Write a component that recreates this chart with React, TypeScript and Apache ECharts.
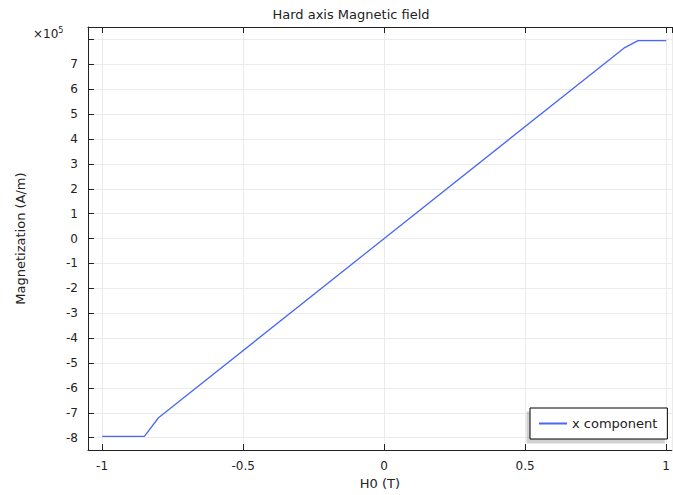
import React, { useEffect, useRef } from "react";
import * as echarts from "echarts";

const fieldT = [-1, -0.85, -0.8, 0.85, 0.9, 1];
const magnetization = [-795000, -795000, -720000, 765000, 795000, 795000];
const seriesName = "x component";
const titleText = "Hard axis Magnetic field";
const xName = "H0 (T)";
const yName = "Magnetization (A/m)";

const FONT = "DejaVu Sans";
const TXT = "#222";

export default function App() {
  const ref = useRef<HTMLDivElement>(null);
  useEffect(() => {
    const chart = echarts.init(ref.current!, null, { renderer: "svg" });
    const data = fieldT.map((x, i) => [x, magnetization[i]]);
    const xCommon = { type: "value", min: -1.05, max: 1.02, splitNumber: 4 };
    chart.setOption({
      animation: false,
      backgroundColor: "#fff",
      textStyle: { fontFamily: FONT },
      title: {
        text: titleText,
        left: 346,
        top: 3,
        textAlign: "center",
        textStyle: { fontFamily: FONT, fontSize: 13, fontWeight: "normal", color: TXT },
      },
      grid: { left: 88, right: 0, top: 27, bottom: 40, containLabel: false },
      legend: {
        left: 530,
        top: 408,
        orient: "vertical",
        backgroundColor: "#fff",
        borderColor: "#000",
        borderWidth: 1,
        borderRadius: 0,
        padding: [9, 10, 9, 9],
        shadowColor: "rgba(0,0,0,0.18)",
        shadowBlur: 0,
        shadowOffsetX: -3,
        shadowOffsetY: 4,
        itemWidth: 28,
        itemHeight: 2,
        itemGap: 6,
        icon: "rect",
        textStyle: { fontFamily: FONT, fontSize: 13, color: TXT },
        data: [seriesName],
      },
      xAxis: [
        {
          ...xCommon,
          name: xName,
          nameLocation: "middle",
          nameGap: 25,
          nameTextStyle: { fontFamily: FONT, fontSize: 13, color: TXT },
          axisLine: { show: true, onZero: false, lineStyle: { color: "#222", width: 1 } },
          axisTick: { show: true, inside: true, length: 6, lineStyle: { color: "#222" } },
          axisLabel: {
            fontFamily: FONT,
            fontSize: 12,
            color: TXT,
            margin: 10,
            showMinLabel: false,
            showMaxLabel: false,
          },
          splitLine: { show: true, lineStyle: { color: "#ebebeb", width: 1 } },
        },
        {
          ...xCommon,
          position: "top",
          axisLine: { show: true, onZero: false, lineStyle: { color: "#222", width: 1 } },
          axisTick: { show: true, inside: true, length: 6, lineStyle: { color: "#222" } },
          axisLabel: { show: false },
          splitLine: { show: false },
        },
      ],
      yAxis: {
        type: "value",
        min: -850000,
        max: 850000,
        splitNumber: 17,
        name: yName,
        nameLocation: "middle",
        nameGap: 61,
        nameTextStyle: { fontFamily: FONT, fontSize: 13, color: TXT },
        axisLine: { show: true, onZero: false, lineStyle: { color: "#222", width: 1 } },
        axisTick: { show: true, inside: true, length: 6, lineStyle: { color: "#222" } },
        axisLabel: {
          fontFamily: FONT,
          fontSize: 12,
          color: TXT,
          margin: 10,
          showMinLabel: false,
          showMaxLabel: false,
          formatter: (v: number) => {
            const r = v / 100000;
            if (Math.abs(r - Math.round(r)) > 1e-6) return "";
            if (Math.round(r) === 8) return "";
            return String(Math.round(r));
          },
        },
        splitLine: { show: true, lineStyle: { color: "#ebebeb", width: 1 } },
      },
      graphic: [
        {
          type: "text",
          left: 33,
          top: 26,
          style: {
            text: "×10{s|5}",
            fontFamily: FONT,
            fontSize: 12,
            fill: TXT,
            rich: { s: { fontSize: 8, verticalAlign: "top", padding: [0, 0, 8, 0], fontFamily: FONT, fill: TXT } },
          },
        },
      ],
      series: [
        {
          name: seriesName,
          type: "line",
          data,
          showSymbol: false,
          symbol: "none",
          lineStyle: { color: "#4a68f5", width: 1.3 },
          itemStyle: { color: "#4a68f5" },
        },
      ],
    });
    return () => chart.dispose();
  }, []);
  return <div ref={ref} style={{ width: 673, height: 495, position: "absolute", left: 0, top: 0 }} />;
}
